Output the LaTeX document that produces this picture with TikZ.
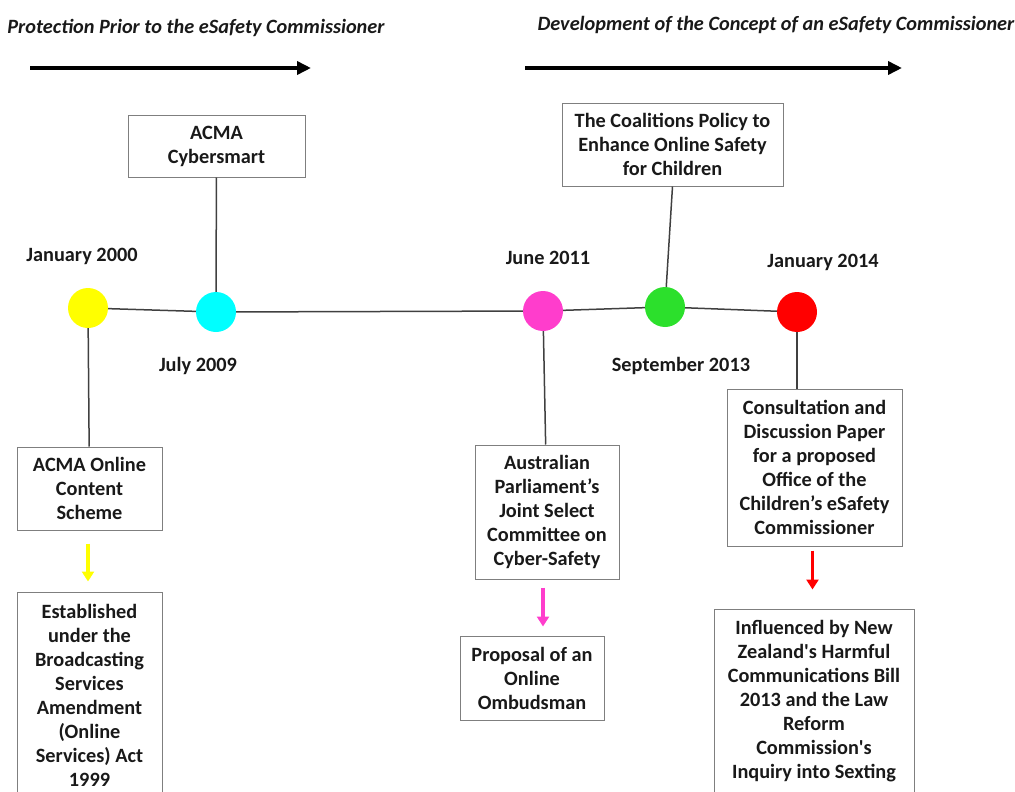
\documentclass[tikz,border=0pt]{standalone}
\usepackage{fontspec}
\setmainfont{Carlito}
\usetikzlibrary{positioning,arrows.meta}
\definecolor{dotyellow}{HTML}{FFFF00}
\definecolor{dotcyan}{HTML}{00FFFF}
\definecolor{dotpink}{HTML}{FF3DCC}
\definecolor{dotgreen}{HTML}{2CE02C}
\definecolor{dotred}{HTML}{FF0000}
\definecolor{boxgray}{HTML}{7F7F7F}
\definecolor{linegray}{HTML}{404040}

\begin{document}
\begin{tikzpicture}[x=1pt, y=-1pt, >=latex,
       every node/.style={font=\bfseries\fontsize{20.3}{24}\selectfont, align=center, text=black!90},
       box/.style={draw=boxgray, line width=1pt, inner sep=0pt},
       dot/.style={circle, minimum size=40pt, inner sep=0pt},
       link/.style={draw=linegray, line width=1.5pt},
       head/.style={font=\bfseries\itshape\fontsize{20.3}{24}\selectfont},
       flow/.style={-{Triangle[width=12pt,length=10pt]}, line width=3.5pt},
       bigarrow/.style={-{Triangle[width=13pt,length=14pt]}, line width=4pt}]
       \useasboundingbox (0,0) rectangle (1015,792);

       % Headings
       \node[head] (prior) at (196,28) {Protection Prior to the eSafety Commissioner};
       \node[head] (concept) at (776,25) {Development of the Concept of an eSafety Commissioner};
       \coordinate (prior-a) at (30,68);
       \coordinate (prior-b) at (311,68);
       \coordinate (concept-a) at (525,68);
       \coordinate (concept-b) at (902,68);

       % Timeline dots
       \node[dot, fill=dotyellow] (jan00) at (88,308) {};
       \node[dot, fill=dotcyan] (jul09) at (216,312) {};
       \node[dot, fill=dotpink] (jun11) at (543,311) {};
       \node[dot, fill=dotgreen] (sep13) at (665,307) {};
       \node[dot, fill=dotred] (jan14) at (797,312) {};

       % Dates
       \node (jan00lab) at (82,256) {January 2000};
       \node (jul09lab) at (198,366) {July 2009};
       \node (jun11lab) at (548,258) {June 2011};
       \node (sep13lab) at (681,366) {September 2013};
       \node (jan14lab) at (823,262) {January 2014};

       % Boxes
       \node[box, minimum width=177pt, minimum height=62pt] (cyber) at (216.5,146) {ACMA\\Cybersmart};
       \node[box, minimum width=221pt, minimum height=83pt] (coalition) at (672.5,144.5) {The Coalitions Policy to\\Enhance Online Safety\\for Children};
       \node[box, minimum width=145pt, minimum height=83pt] (scheme) at (89.5,488.5) {ACMA Online\\Content\\Scheme};
       \node[box, minimum width=145pt, minimum height=206pt] (established) at (89.5,695) {Established\\under the\\Broadcasting\\Services\\Amendment\\(Online\\Services) Act\\1999};
       \node[box, minimum width=144pt, minimum height=134pt] (jointcttee) at (547,512) {Australian\\Parliament’s\\Joint Select\\Committee on\\Cyber-Safety};
       \node[box, minimum width=144pt, minimum height=84pt] (ombudsman) at (532,678) {Proposal of an\\Online\\Ombudsman};
       \node[box, minimum width=175pt, minimum height=157pt] (consultation) at (814.5,467.5) {Consultation and\\Discussion Paper\\for a proposed\\Office of the\\Children’s eSafety\\Commissioner};
       \node[box, minimum width=200pt, minimum height=184pt] (influenced) at (814,701) {Influenced by New\\Zealand\textquotesingle s Harmful\\Communications Bill\\2013 and the Law\\Reform\\Commission\textquotesingle s\\Inquiry into Sexting};

       % Arrows
       \draw[bigarrow] (prior-a) -- (prior-b);
       \draw[bigarrow] (concept-a) -- (concept-b);

       % Timeline
       \draw[link] (jan00) -- (jul09) -- (jun11) -- (sep13) -- (jan14);
       \draw[link] (cyber) -- (jul09);
       \draw[link] (coalition.south) -- (sep13);
       \draw[link] (jan00) -- (scheme);
       \draw[link] (jun11) -- (jointcttee);
       \draw[link] (jan14) -- (jan14 |- consultation.north);

       % Coloured arrows
       \draw[flow, dotyellow, shorten <=13pt, shorten >=10pt] ([xshift=-1.5pt]scheme.south) -- ([xshift=-1.5pt]scheme.south |- established.north);
       \draw[flow, dotpink, shorten <=8pt, shorten >=9pt] ([xshift=-4pt]jointcttee.south) -- ([xshift=-4pt]jointcttee.south |- ombudsman.north);
       \draw[flow, dotred, shorten <=4pt, shorten >=19pt] ([xshift=-2pt]consultation.south) -- ([xshift=-2pt]consultation.south |- influenced.north);
\end{tikzpicture}
\end{document}
